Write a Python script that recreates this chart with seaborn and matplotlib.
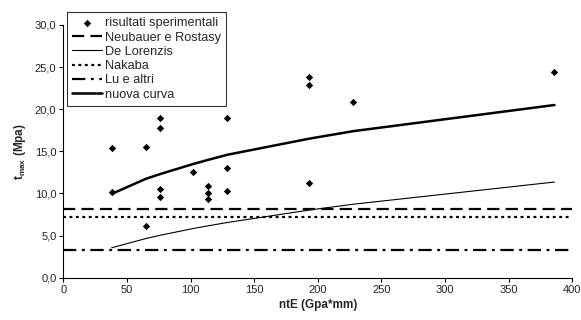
import matplotlib
matplotlib.use("Agg")
import matplotlib.pyplot as plt
import seaborn as sns
import pandas as pd
from matplotlib.ticker import FuncFormatter, MultipleLocator

# Experimental results: ntE (GPa*mm) vs peak bond stress (MPa)
exp_x = [38, 38, 65, 65, 76, 76, 76, 76, 102, 114, 114, 114, 129, 129, 129, 193, 193, 193, 228, 386]
exp_y = [15.4, 10.2, 15.5, 6.1, 18.9, 17.8, 10.5, 9.6, 12.5, 10.9, 10.1, 9.3, 18.9, 13.0, 10.3, 23.8, 22.9, 11.3, 20.9, 24.4]

# Model curves evaluated at the tested stiffness values
curve_x = [38, 65, 76, 102, 114, 129, 193, 228, 386]
delorenzis_y = [3.56, 4.66, 5.04, 5.84, 6.17, 6.56, 8.03, 8.73, 11.36]
nuova_y = [9.95, 11.75, 12.3, 13.5, 14.0, 14.6, 16.5, 17.4, 20.5]

# Constant-value models
neubauer_y = 8.15
nakaba_y = 7.22
lu_y = 3.33

sns.set_theme(style="white")
plt.rcParams["font.family"] = ["Liberation Sans", "DejaVu Sans"]
plt.rcParams["mathtext.fontset"] = "custom"
plt.rcParams["mathtext.rm"] = "Liberation Sans"
plt.rcParams["mathtext.bf"] = "Liberation Sans:bold"

fig = plt.figure(figsize=(5.81, 3.2), dpi=100)
ax = fig.add_axes([0.109, 0.132, 0.876, 0.79])

df_exp = pd.DataFrame({"x": exp_x, "y": exp_y})
df_curve = pd.DataFrame({"x": curve_x, "dl": delorenzis_y, "nc": nuova_y})

sns.scatterplot(data=df_exp, x="x", y="y", ax=ax, marker="D", s=14, color="black",
                edgecolor="black", linewidth=0, label="risultati sperimentali", zorder=5)
ax.axhline(neubauer_y, color="black", lw=1.6, ls=(0, (5.5, 2.8)), label="Neubauer e Rostasy")
sns.lineplot(data=df_curve, x="x", y="dl", ax=ax, color="black", lw=0.8,
             label="De Lorenzis")
ax.axhline(nakaba_y, color="black", lw=1.6, ls=(0, (1.3, 1.6)), label="Nakaba")
ax.axhline(lu_y, color="black", lw=1.6, ls=(0, (6, 2.5, 1.3, 2.5)), label="Lu e altri")
sns.lineplot(data=df_curve, x="x", y="nc", ax=ax, color="black", lw=1.8,
             label="nuova curva")

ax.set_xlim(0, 400)
ax.set_ylim(0, 30)
ax.xaxis.set_major_locator(MultipleLocator(50))
ax.yaxis.set_major_locator(MultipleLocator(5))
ax.yaxis.set_major_formatter(FuncFormatter(lambda v, p: f"{v:.1f}".replace(".", ",")))
ax.tick_params(axis="both", which="major", labelsize=8, length=3, width=0.8,
               direction="out", color="black", pad=2, bottom=True, left=True)
for t in ax.get_xticklabels() + ax.get_yticklabels():
    t.set_color("#222222")

for side in ("top", "right"):
    ax.spines[side].set_visible(False)
for side in ("left", "bottom"):
    ax.spines[side].set_color("black")
    ax.spines[side].set_linewidth(0.8)

ax.set_xlabel("ntE (Gpa*mm)", fontsize=8.5, fontweight="bold", labelpad=3)
ax.set_ylabel(r"t$_{\mathregular{max}}$ (Mpa)", fontsize=8.5, fontweight="bold", labelpad=5)

leg = ax.legend(loc="upper left", bbox_to_anchor=(0.1148, 0.962),
                bbox_transform=fig.transFigure, fontsize=9.2, frameon=True,
                fancybox=False, edgecolor="black", handlelength=2.4,
                handletextpad=0.2, labelspacing=0.18, borderpad=0.4,
                borderaxespad=0)
leg.get_frame().set_linewidth(0.8)
leg.set_zorder(10)

fig.savefig("out.png", dpi=100, facecolor="white")
